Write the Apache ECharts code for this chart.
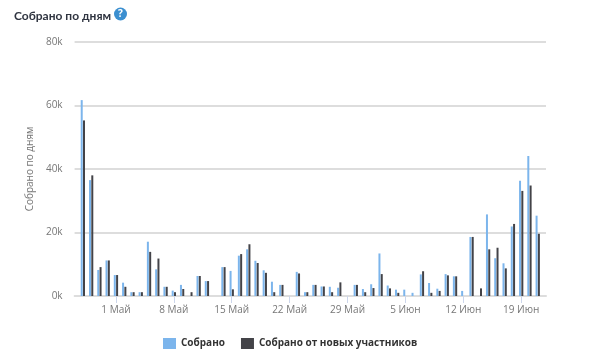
<!DOCTYPE html>
<html>
<head>
<meta charset="utf-8">
<style>
  html, body { margin: 0; padding: 0; background: #fff; }
  #chart { width: 600px; height: 357px; }
</style>
<script src="https://cdn.jsdelivr.net/npm/echarts@6/dist/echarts.min.js"></script>
</head>
<body>
<div id="chart"></div>
<script>
// дни по порядку, края оси пустые
const days = [
  '26 Апр', '27 Апр', '28 Апр', '29 Апр', '30 Апр',
  '1 Май', '2 Май', '3 Май', '4 Май', '5 Май', '6 Май', '7 Май', '8 Май', '9 Май', '10 Май',
  '11 Май', '12 Май', '13 Май', '14 Май', '15 Май', '16 Май', '17 Май', '18 Май', '19 Май', '20 Май',
  '21 Май', '22 Май', '23 Май', '24 Май', '25 Май', '26 Май', '27 Май', '28 Май', '29 Май', '30 Май', '31 Май',
  '1 Июн', '2 Июн', '3 Июн', '4 Июн', '5 Июн', '6 Июн', '7 Июн', '8 Июн', '9 Июн', '10 Июн',
  '11 Июн', '12 Июн', '13 Июн', '14 Июн', '15 Июн', '16 Июн', '17 Июн', '18 Июн', '19 Июн', '20 Июн', '21 Июн', '22 Июн'
]
const tickDays = ['1 Май', '8 Май', '15 Май', '22 Май', '29 Май', '5 Июн', '12 Июн', '19 Июн']
const yTicks = [0, 20000, 40000, 60000, 80000]

const collected = [
  0, 61700, 36500, 8200, 11200,
  6600, 4200, 1200, 1200, 17100, 8400, 2900, 1700, 3500, 0,
  6300, 4700, 0, 9100, 7900, 12700, 14700, 11100, 8100, 4500,
  3500, 0, 7600, 1200, 3500, 3000, 2900, 2600, 0, 3500, 2200,
  3700, 13400, 3300, 2000, 2000, 1000, 6800, 4100, 2300, 6900,
  6200, 1600, 18600, 0, 25700, 11900, 10300, 21900, 36300, 44100, 25300, 0
]
const collectedNew = [
  0, 55300, 38000, 9100, 11200,
  6600, 2900, 1200, 1200, 13900, 11800, 2900, 1200, 2200, 1200,
  6300, 4700, 0, 9100, 2100, 13200, 16300, 10400, 7300, 1200,
  3500, 0, 7100, 1200, 3500, 3000, 1200, 4300, 0, 3500, 1200,
  2500, 6900, 2400, 1000, 0, 0, 7800, 1000, 1600, 6500,
  6200, 0, 18600, 2400, 14700, 15200, 8700, 22700, 33100, 34800, 19600, 0
]

const font = '"Open Sans", "Noto Sans", sans-serif'
const myChart = echarts.init(document.getElementById('chart'))

myChart.setOption({
  animation: false,
  textStyle: { fontFamily: font },
  title: {
    text: 'Собрано по дням',
    left: 14,
    top: 10,
    padding: 0,
    textStyle: { color: '#2f3440', fontSize: 12, fontWeight: 'bold', fontFamily: 'Lato, ' + font }
  },
  graphic: [
    { type: 'circle', shape: { cx: 120.5, cy: 14, r: 6.5 }, style: { fill: '#3b8fd0' } },
    {
      type: 'text',
      x: 120.5,
      y: 14,
      style: { text: '?', fill: '#fff', font: 'bold 10px ' + font, align: 'center', verticalAlign: 'middle' }
    }
  ],
  color: ['#7cb5ec', '#434348'],
  legend: {
    left: 163,
    top: 338,
    padding: 0,
    itemWidth: 13,
    itemHeight: 11,
    itemGap: 16,
    icon: 'rect',
    textStyle: { color: '#333', fontSize: 10, fontWeight: 'bold', fontFamily: font }
  },
  grid: { left: 74.6, right: 54, top: 42, bottom: 61 },
  xAxis: {
    type: 'category',
    data: days,
    boundaryGap: false,
    axisLine: { lineStyle: { color: '#dddddd', width: 2 } },
    axisTick: {
      length: 7,
      lineStyle: { color: '#ccd6eb' },
      interval: (i, name) => tickDays.includes(name)
    },
    axisLabel: {
      color: '#777',
      fontSize: 10,
      margin: 9,
      interval: (i, name) => tickDays.includes(name)
    }
  },
  yAxis: {
    type: 'value',
    min: yTicks[0],
    max: yTicks[yTicks.length - 1],
    interval: yTicks[1],
    name: 'Собрано по дням',
    nameLocation: 'middle',
    nameGap: 36,
    nameTextStyle: { color: '#777', fontSize: 10 },
    axisLine: { show: false },
    axisTick: { show: false },
    axisLabel: {
      color: '#777',
      fontSize: 10,
      margin: 12,
      padding: [3, 0, 0, 0],
      formatter: (v) => (v === 0 ? '0k' : v / 1000 + 'k')
    },
    splitLine: { lineStyle: { color: '#dddddd', width: 2 } }
  },
  series: [
    { name: 'Собрано', type: 'bar', data: collected, barWidth: 2, barGap: '15%' },
    { name: 'Собрано от новых участников', type: 'bar', data: collectedNew, barWidth: 2, barGap: '15%' }
  ]
})
</script>
</body>
</html>
